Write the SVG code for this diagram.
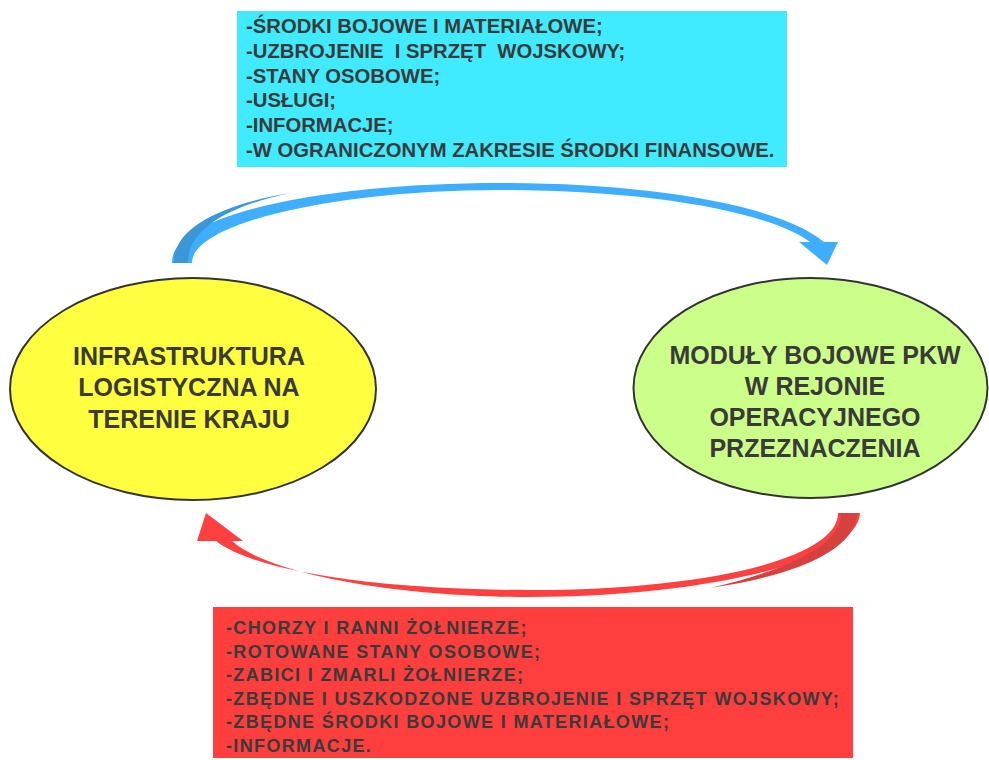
<svg xmlns="http://www.w3.org/2000/svg" width="989" height="760" viewBox="0 0 989 760">
<style>
.t{font-family:"Liberation Sans",Arial,sans-serif;font-weight:bold;fill:#3a3a3a;}
.box{font-size:20.3px;}
.boxr{font-size:18px;letter-spacing:1.35px;}
.el{font-size:25px;text-anchor:middle;}
.ell{stroke:#333;stroke-width:2;}
</style>
<rect width="989" height="760" fill="#fff"/>
<g id="connectors">
<path id="arrow-top" fill="#40AEFF" d="M172 263 C170 213 330 183 500 183 C650 183 780 205 824 242 L838 242 L827 265 L799 242 L810 242 C770 212 650 190 500 190 C340 190 192 222 192 263 Z"/>
<path fill="#3B97D6" d="M174 263 C173 228 220 205 290 193 C230 206 188 228 188 263 Z"/>
<path id="arrow-bottom" fill="#FF4040" d="M838 513 L860 513 C858 562 700 597 530 597 C400 597 270 575 232 541 L243 541 L206 513 L197 541 L216 541 C260 575 400 590 530 590 C700 590 838 560 838 513 Z"/>
<path fill="#D64040" d="M841 513 L857 513 C856 555 780 578 710 588 C770 574 842 550 841 513 Z"/>
</g>
<g id="node-top">
<rect x="237" y="11" width="550" height="156" fill="#40EAFF"/>
<text class="t box" x="246" xml:space="preserve"><tspan x="246" y="33">-ŚRODKI BOJOWE I MATERIAŁOWE;</tspan><tspan x="246" y="57.8">-UZBROJENIE  I SPRZĘT  WOJSKOWY;</tspan><tspan x="246" y="82.6">-STANY OSOBOWE;</tspan><tspan x="246" y="107.4">-USŁUGI;</tspan><tspan x="246" y="132.2">-INFORMACJE;</tspan><tspan x="246" y="157">-W OGRANICZONYM ZAKRESIE ŚRODKI FINANSOWE.</tspan></text>
</g>
<g id="node-left">
<ellipse class="ell" cx="193" cy="389" rx="183" ry="111" fill="#FFFF40"/>
<text class="t el"><tspan x="189" y="365">INFRASTRUKTURA</tspan><tspan x="189" y="396">LOGISTYCZNA NA</tspan><tspan x="189" y="428">TERENIE KRAJU</tspan></text>
</g>
<g id="node-right">
<ellipse class="ell" cx="810.5" cy="388" rx="177" ry="110" fill="#CCFF8A"/>
<text class="t el"><tspan x="815" y="364">MODUŁY BOJOWE PKW</tspan><tspan x="815" y="395">W REJONIE</tspan><tspan x="815" y="426">OPERACYJNEGO</tspan><tspan x="815" y="457">PRZEZNACZENIA</tspan></text>
</g>
<g id="node-bottom">
<rect x="213" y="607" width="640" height="151" fill="#FF3E3E"/>
<text class="t boxr"><tspan x="226" y="634">-CHORZY I RANNI ŻOŁNIERZE;</tspan><tspan x="226" y="657.5">-ROTOWANE STANY OSOBOWE;</tspan><tspan x="226" y="681">-ZABICI I ZMARLI ŻOŁNIERZE;</tspan><tspan x="226" y="704.5">-ZBĘDNE I USZKODZONE UZBROJENIE I SPRZĘT WOJSKOWY;</tspan><tspan x="226" y="728">-ZBĘDNE ŚRODKI BOJOWE I MATERIAŁOWE;</tspan><tspan x="226" y="751.5">-INFORMACJE.</tspan></text>
</g>
</svg>
